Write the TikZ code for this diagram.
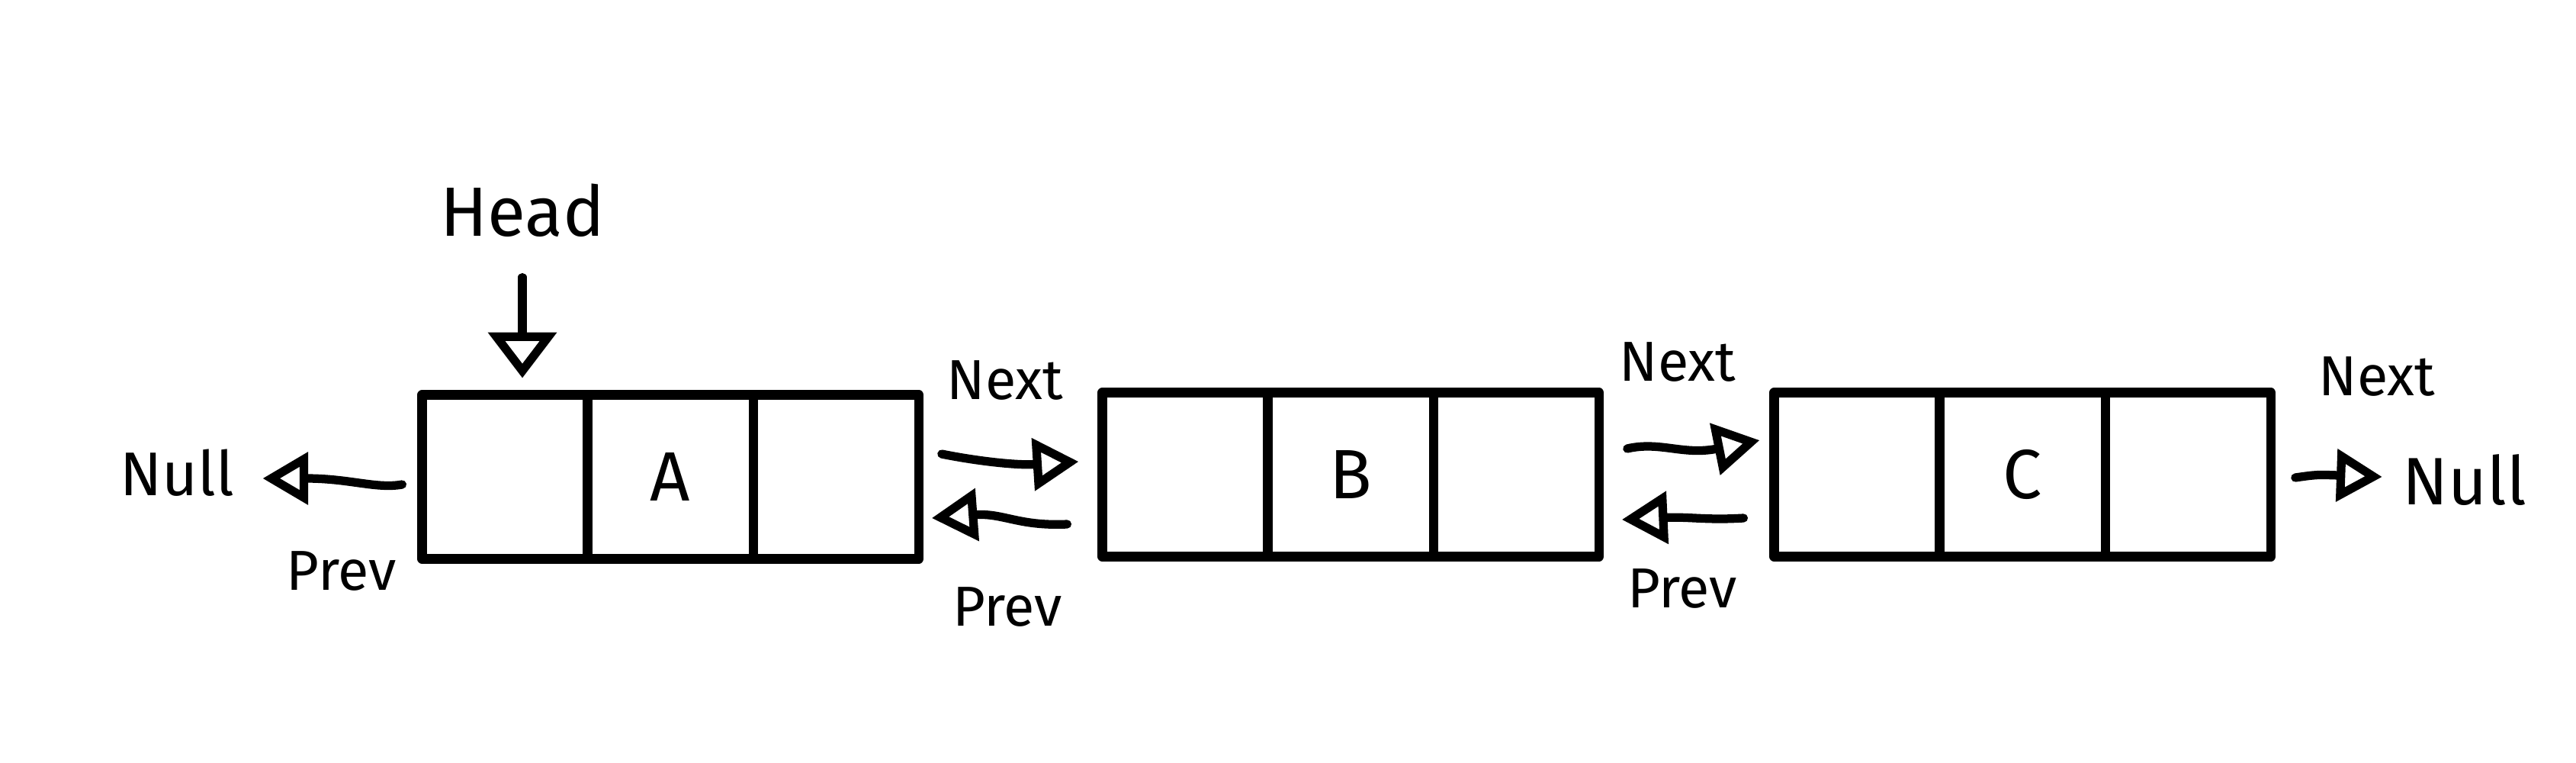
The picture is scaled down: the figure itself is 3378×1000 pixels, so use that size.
\documentclass[tikz,border=0pt]{standalone}
\usepackage{fontspec}
\setmainfont{Fira Sans}
\usetikzlibrary{arrows.meta,calc}
\begin{document}
\begin{tikzpicture}[x=0.01cm,y=-0.01cm,
  cell/.style={draw,line width=3.5pt,line join=round,outer sep=0pt,minimum width=2.17cm,minimum height=2.15cm,inner sep=0pt,font=\fontsize{26}{30}\selectfont},
  lbl/.style={font=\fontsize{21}{25}\selectfont,inner sep=0pt},
  big/.style={font=\fontsize{26}{30}\selectfont,inner sep=0pt},
  arr/.style={line width=3.2pt,line cap=round,line join=round,-{Triangle[open,length=17pt,width=19pt]}},
  headarr/.style={line width=3.2pt,line cap=round,line join=round,-{Triangle[open,length=17pt,width=25pt]}}
]
\useasboundingbox[fill=white] (0,0) rectangle (3378,1000);

% node A
\node[cell] (a1) at (662,625) {};
\node[cell,anchor=west] (a2) at (a1.east) {A};
\node[cell,anchor=west] (a3) at (a2.east) {};
% node B
\node[cell] (b1) at (1554,622) {};
\node[cell,anchor=west] (b2) at (b1.east) {B};
\node[cell,anchor=west] (b3) at (b2.east) {};
% node C
\node[cell] (c1) at (2435,622) {};
\node[cell,anchor=west] (c2) at (c1.east) {C};
\node[cell,anchor=west] (c3) at (c2.east) {};

% labels
\node[big] (head) at (685,276) {Head};
\node[big,font=\fontsize{23}{28}\selectfont] (nullL) at (232,620) {Null};
\node[big,font=\fontsize{25}{28}\selectfont] (nullR) at (3232,629) {Null};
\node[lbl] (prevA) at (448,748) {Prev};
\node[lbl] (nextAB) at (1318,498) {Next};
\node[lbl] (prevAB) at (1321,795) {Prev};
\node[lbl] (nextBC) at (2200,474) {Next};
\node[lbl] (prevBC) at (2206,771) {Prev};
\node[lbl] (nextC) at (3117,493) {Next};

% connectors
\draw[headarr] ($(head.south)+(0,52)$) -- ($(a1.north -| head.south)+(0,-22)$);
\draw[arr] ($(a1.west)+(-26,10)$) .. controls ($(a1.west)+(-60,16)$) and ($(a1.west)+(-95,2)$) .. ($(a1.west)+(-209,2)$);
\draw[arr] ($(a3.east)+(30,-30)$) .. controls ($(a3.east)+(80,-20)$) and ($(a3.east)+(130,-15)$) .. ($(b1.west)+(-31,-17)$);
\draw[arr] ($(b1.west)+(-46,65)$) .. controls ($(b1.west)+(-110,68)$) and ($(b1.west)+(-130,50)$) .. ($(a3.east)+(17,54)$);
\draw[arr] ($(b3.east)+(37,-34)$) .. controls ($(b3.east)+(80,-44)$) and ($(b3.east)+(110,-25)$) .. ($(c1.west)+(-19,-45)$);
\draw[arr] ($(c1.west)+(-40,57)$) .. controls ($(c1.west)+(-90,60)$) and ($(c1.west)+(-110,55)$) .. ($(b3.east)+(30,59)$);
\draw[arr] ($(c3.east)+(32,4)$) .. controls ($(c3.east)+(60,0)$) .. ($(c3.east)+(146,3)$);
\end{tikzpicture}
\end{document}
